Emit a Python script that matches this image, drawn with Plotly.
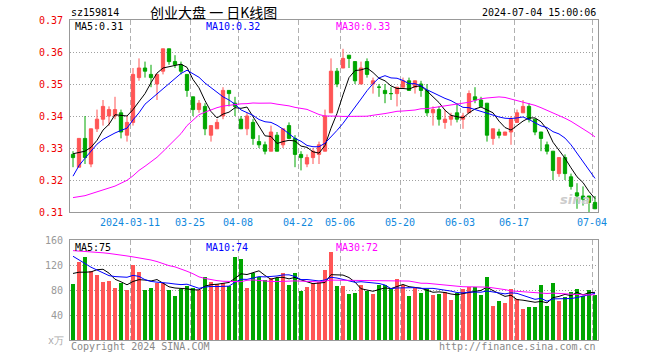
import plotly.graph_objects as go
import pandas as pd

dates = [
    "2024-02-26", "2024-02-27", "2024-02-28", "2024-02-29", "2024-03-01",
    "2024-03-04", "2024-03-05", "2024-03-06", "2024-03-07", "2024-03-08",
    "2024-03-11", "2024-03-12", "2024-03-13", "2024-03-14", "2024-03-15",
    "2024-03-18", "2024-03-19", "2024-03-20", "2024-03-21", "2024-03-22",
    "2024-03-25", "2024-03-26", "2024-03-27", "2024-03-28", "2024-03-29",
    "2024-04-01", "2024-04-02", "2024-04-03", "2024-04-08", "2024-04-09",
    "2024-04-10", "2024-04-11", "2024-04-12", "2024-04-15", "2024-04-16",
    "2024-04-17", "2024-04-18", "2024-04-19", "2024-04-22", "2024-04-23",
    "2024-04-24", "2024-04-25", "2024-04-26", "2024-04-29", "2024-04-30",
    "2024-05-06", "2024-05-07", "2024-05-08", "2024-05-09", "2024-05-10",
    "2024-05-13", "2024-05-14", "2024-05-15", "2024-05-16", "2024-05-17",
    "2024-05-20", "2024-05-21", "2024-05-22", "2024-05-23", "2024-05-24",
    "2024-05-27", "2024-05-28", "2024-05-29", "2024-05-30", "2024-05-31",
    "2024-06-03", "2024-06-04", "2024-06-05", "2024-06-06", "2024-06-07",
    "2024-06-11", "2024-06-12", "2024-06-13", "2024-06-14", "2024-06-17",
    "2024-06-18", "2024-06-19", "2024-06-20", "2024-06-21", "2024-06-24",
    "2024-06-25", "2024-06-26", "2024-06-27", "2024-06-28", "2024-07-01",
    "2024-07-02", "2024-07-03", "2024-07-04",
]

opens = [
    0.328, 0.324, 0.333, 0.325, 0.336, 0.339, 0.340, 0.340, 0.341, 0.334,
    0.338, 0.352, 0.355, 0.353, 0.350, 0.354, 0.361, 0.357, 0.356, 0.353,
    0.346, 0.342, 0.343, 0.334, 0.336, 0.340, 0.348, 0.344, 0.339, 0.336,
    0.338, 0.332, 0.331, 0.329, 0.334, 0.331, 0.337, 0.333, 0.328, 0.325,
    0.327, 0.328, 0.329, 0.341, 0.354, 0.355, 0.359, 0.357, 0.350, 0.357,
    0.350, 0.349, 0.348, 0.347, 0.347, 0.349, 0.351, 0.349, 0.350, 0.348,
    0.341, 0.342, 0.338, 0.339, 0.341, 0.339, 0.341, 0.346, 0.345, 0.344,
    0.333, 0.335, 0.334, 0.335, 0.338, 0.341, 0.343, 0.339, 0.335, 0.331,
    0.329, 0.322, 0.327, 0.321, 0.316, 0.315, 0.315, 0.313,
]
highs = [
    0.329, 0.333, 0.340, 0.336, 0.342, 0.345, 0.343, 0.346, 0.342, 0.340,
    0.355, 0.358, 0.357, 0.356, 0.353, 0.361, 0.361, 0.359, 0.357, 0.353,
    0.346, 0.345, 0.344, 0.337, 0.339, 0.349, 0.348, 0.346, 0.340, 0.341,
    0.339, 0.334, 0.332, 0.337, 0.335, 0.336, 0.338, 0.334, 0.329, 0.328,
    0.330, 0.332, 0.342, 0.358, 0.355, 0.361, 0.359, 0.357, 0.357, 0.358,
    0.352, 0.350, 0.350, 0.349, 0.349, 0.352, 0.352, 0.351, 0.351, 0.350,
    0.343, 0.343, 0.342, 0.341, 0.344, 0.341, 0.348, 0.349, 0.346, 0.344,
    0.336, 0.336, 0.335, 0.340, 0.342, 0.345, 0.344, 0.339, 0.335, 0.332,
    0.329, 0.327, 0.328, 0.322, 0.319, 0.318, 0.315, 0.315,
]
lows = [
    0.324, 0.324, 0.325, 0.324, 0.335, 0.337, 0.337, 0.339, 0.333, 0.332,
    0.337, 0.351, 0.352, 0.349, 0.345, 0.353, 0.356, 0.355, 0.353, 0.346,
    0.340, 0.341, 0.334, 0.332, 0.336, 0.339, 0.343, 0.340, 0.336, 0.334,
    0.331, 0.330, 0.328, 0.329, 0.329, 0.330, 0.333, 0.324, 0.323, 0.324,
    0.325, 0.325, 0.329, 0.341, 0.349, 0.355, 0.355, 0.350, 0.350, 0.352,
    0.347, 0.346, 0.344, 0.345, 0.343, 0.349, 0.348, 0.347, 0.346, 0.340,
    0.337, 0.337, 0.336, 0.337, 0.338, 0.336, 0.341, 0.344, 0.343, 0.332,
    0.331, 0.333, 0.334, 0.331, 0.338, 0.341, 0.338, 0.334, 0.329, 0.328,
    0.320, 0.321, 0.320, 0.317, 0.311, 0.312, 0.310, 0.311,
]
closes = [
    0.327, 0.333, 0.327, 0.336, 0.339, 0.343, 0.342, 0.342, 0.335, 0.338,
    0.353, 0.355, 0.354, 0.352, 0.353, 0.361, 0.357, 0.356, 0.354, 0.348,
    0.342, 0.344, 0.336, 0.337, 0.338, 0.348, 0.347, 0.343, 0.336, 0.340,
    0.333, 0.331, 0.329, 0.335, 0.329, 0.336, 0.333, 0.328, 0.327, 0.327,
    0.329, 0.331, 0.340, 0.354, 0.350, 0.358, 0.358, 0.351, 0.355, 0.353,
    0.351, 0.349, 0.347, 0.347, 0.349, 0.351, 0.348, 0.351, 0.348, 0.341,
    0.342, 0.339, 0.339, 0.340, 0.339, 0.340, 0.347, 0.345, 0.343, 0.334,
    0.336, 0.334, 0.335, 0.339, 0.341, 0.343, 0.339, 0.335, 0.333, 0.329,
    0.323, 0.327, 0.322, 0.318, 0.315, 0.314, 0.313, 0.311,
]
volumes = [
    89.6, 125.3, 132.3, 111.0, 104.0, 93.3, 94.4, 83.2, 90.7, 80.0,
    120.0, 108.8, 80.0, 83.2, 91.7, 90.7, 80.0, 70.4, 81.6, 86.4,
    82.7, 80.0, 100.3, 93.3, 89.6, 90.7, 86.4, 133.3, 129.6, 83.7,
    106.7, 100.3, 96.0, 98.7, 98.7, 107.7, 88.0, 107.7, 78.9, 85.3,
    90.7, 93.3, 112.0, 141.3, 86.4, 86.4, 73.6, 75.7, 88.0, 78.9,
    73.6, 88.0, 88.0, 82.7, 97.6, 88.0, 70.4, 82.7, 75.7, 81.1,
    72.0, 73.6, 77.3, 64.0, 74.7, 81.6, 84.3, 84.3, 72.0, 100.3,
    54.4, 62.4, 59.7, 81.1, 65.6, 49.6, 52.8, 52.8, 88.0, 54.4,
    91.2, 62.4, 69.3, 77.3, 81.6, 70.4, 80.0, 72.0,
]

# moving-average values read off the chart where earlier history is not shown
ma5_head = [0.3282, 0.3285, 0.3290, 0.3302]
ma10_head = [0.3212, 0.3245, 0.3268, 0.3290, 0.3312, 0.3327, 0.3338, 0.3347, 0.3355]
ma30_head = [
    0.3145, 0.3148, 0.3151, 0.3157, 0.3163, 0.3168, 0.3174, 0.3181, 0.3190, 0.3199,
    0.3213, 0.3230, 0.3243, 0.3256, 0.3271, 0.3289, 0.3308, 0.3325, 0.3345, 0.3370,
    0.3388, 0.3404, 0.3412, 0.3420, 0.3426, 0.3431, 0.3434, 0.3437, 0.3438,
]
vma5_head = [106.5, 108.5, 108.5, 109.0]
vma10_head = [134.0, 128.0, 122.5, 116.5, 112.0, 107.5, 103.0, 101.5, 101.0]
vma30_head = [
    143.0, 142.5, 142.0, 141.5, 140.5, 139.5, 138.5, 137.5, 136.0, 134.5,
    133.0, 131.5, 129.5, 128.0, 125.5, 122.0, 119.0, 117.0, 114.0, 110.0,
    106.0, 101.0, 98.5, 96.5, 95.0, 94.0, 93.5, 93.5, 93.3,
]

tick_dates = ["2024-03-11", "03-25", "04-08", "04-22", "05-06", "05-20", "06-03", "06-17", "07-04"]
price_ticks = [0.31, 0.32, 0.33, 0.34, 0.35, 0.36, 0.37]
price_tick_text = ["0.31", "0.32", "0.33", "0.34", "0.35", "0.36", "0.37"]
vol_ticks = [40, 80, 120, 160]
vol_tick_text = ["40", "80", "120", "160"]

title_text = "创业大盘 一 日K线图"
code_text = "sz159814"
time_text = "2024-07-04 15:00:06"
legend_price = ["MA5:0.31", "MA10:0.32", "MA30:0.33"]
legend_vol = ["MA5:75", "MA10:74", "MA30:72"]

# ---------------------------------------------------------------
RED = "#ff5555"
GREEN = "#00a600"
MONO = "DejaVu Sans Mono"

n = len(dates)
idx = list(range(n))
close_s = pd.Series(closes)
vol_s = pd.Series(volumes)


def with_head(series, window, head):
    vals = series.rolling(window).mean().tolist()
    for k, v in enumerate(head):
        vals[k] = v
    return vals


ma5 = with_head(close_s, 5, ma5_head)
ma10 = with_head(close_s, 10, ma10_head)
ma30 = with_head(close_s, 30, ma30_head)
vma5 = with_head(vol_s, 5, vma5_head)
vma10 = with_head(vol_s, 10, vma10_head)
vma30 = with_head(vol_s, 30, vma30_head)

is_up = [c > o for o, c in zip(opens, closes)]

fig = go.Figure()


def candle_trace(sel, color):
    return go.Candlestick(
        x=[idx[i] for i in sel],
        open=[opens[i] for i in sel],
        high=[highs[i] for i in sel],
        low=[lows[i] for i in sel],
        close=[closes[i] for i in sel],
        increasing=dict(line=dict(color=color, width=1), fillcolor=color),
        decreasing=dict(line=dict(color=color, width=1), fillcolor=color),
        whiskerwidth=0,
        showlegend=False,
        hoverinfo="skip",
        xaxis="x",
        yaxis="y",
    )


fig.add_trace(candle_trace([i for i in idx if is_up[i]], RED))
fig.add_trace(candle_trace([i for i in idx if not is_up[i]], GREEN))

for vals, col in [(ma5, "#000000"), (ma10, "#0000ff"), (ma30, "#ff00ff")]:
    fig.add_trace(go.Scatter(x=idx, y=vals, mode="lines", line=dict(color=col, width=1),
                             showlegend=False, hoverinfo="skip", xaxis="x", yaxis="y"))

fig.add_trace(go.Bar(x=idx, y=volumes, marker=dict(color=[RED if u else GREEN for u in is_up], line=dict(width=0)),
                     width=0.82, showlegend=False, hoverinfo="skip", xaxis="x2", yaxis="y2"))

for vals, col in [(vma5, "#000000"), (vma10, "#0000ff"), (vma30, "#ff00ff")]:
    fig.add_trace(go.Scatter(x=idx, y=vals, mode="lines", line=dict(color=col, width=1),
                             showlegend=False, hoverinfo="skip", xaxis="x2", yaxis="y2"))

tick_pos = []
for t in tick_dates:
    key = t if len(t) == 10 else "2024-" + t
    tick_pos.append(dates.index(key) - 0.5)

FRAME = "#999999"
common_x = dict(range=[-0.5, n - 0.5], tickvals=tick_pos, showgrid=True, gridcolor="#b0b0b0",
                griddash="5px,3px", gridwidth=1, showline=True, mirror=True, linecolor=FRAME,
                linewidth=1, zeroline=False, ticks="", fixedrange=True)

fig.update_layout(
    width=660, height=360,
    margin=dict(l=70, r=62, t=20, b=20),
    paper_bgcolor="white", plot_bgcolor="white",
    font=dict(family=MONO, size=10, color="#000000"),
    boxgap=0.22,
    bargap=0,
    xaxis=dict(common_x, domain=[0, 1], anchor="y", ticktext=tick_dates,
               tickfont=dict(family=MONO, size=10, color="#1188dd"),
               rangeslider=dict(visible=False), ticklabelstandoff=1),
    yaxis=dict(domain=[0.4, 1.0], range=[0.31, 0.37], tickvals=price_ticks, ticktext=price_tick_text,
               tickfont=dict(family=MONO, size=10, color="#ee0000"), showgrid=True,
               gridcolor="#a0a0a0", griddash="1px,2px", showline=True, mirror=True,
               linecolor=FRAME, zeroline=False, ticks="", ticklabelstandoff=4, fixedrange=True),
    xaxis2=dict(common_x, domain=[0, 1], anchor="y2", matches="x", showticklabels=False),
    yaxis2=dict(domain=[0, 0.3125], range=[0, 160], tickvals=vol_ticks, ticktext=vol_tick_text,
                tickfont=dict(family=MONO, size=10, color="#999999"), showgrid=True,
                gridcolor="#a0a0a0", griddash="1px,2px", showline=True, mirror=True,
                linecolor=FRAME, zeroline=False, ticks="", ticklabelstandoff=4, fixedrange=True),
)


def px_x(px):
    return (px - 70) / 528.0


def px_y(py):
    return (340 - py) / 320.0


def note(text, x, y, anchor="left", color="#000000", size=10, family=MONO):
    fig.add_annotation(text=text, x=px_x(x), y=px_y(y), xref="paper", yref="paper",
                       xanchor=anchor, yanchor="middle", showarrow=False,
                       font=dict(family=family, size=size, color=color))


note(code_text, 69, 13)
note(title_text, 213, 12, anchor="center", size=14, family="Noto Sans CJK SC")
note(time_text, 598, 13, anchor="right")

ma_cols = ["#000000", "#0000ff", "#ff00ff"]
for txt, xx, col in zip(legend_price, [73, 204, 334], ma_cols):
    note(txt, xx, 27, color=col)
for txt, xx, col in zip(legend_vol, [73, 204, 334], ma_cols):
    note(txt, xx, 247, color=col)

note("Copyright 2024 SINA.COM", 69, 346, color="#888888")
note("http://finance.sina.com.cn", 598, 346, anchor="right", color="#888888")
note("x万", 66, 340, anchor="right", color="#aaaaaa", size=10)
note("<b><i>sina</i></b>", 575, 199, anchor="center", color="#cccccc", size=13, family="DejaVu Sans")

fig.write_html("out.html", config={"displayModeBar": False},
               post_script="document.body.style.margin='0px';document.body.style.overflow='hidden';")
